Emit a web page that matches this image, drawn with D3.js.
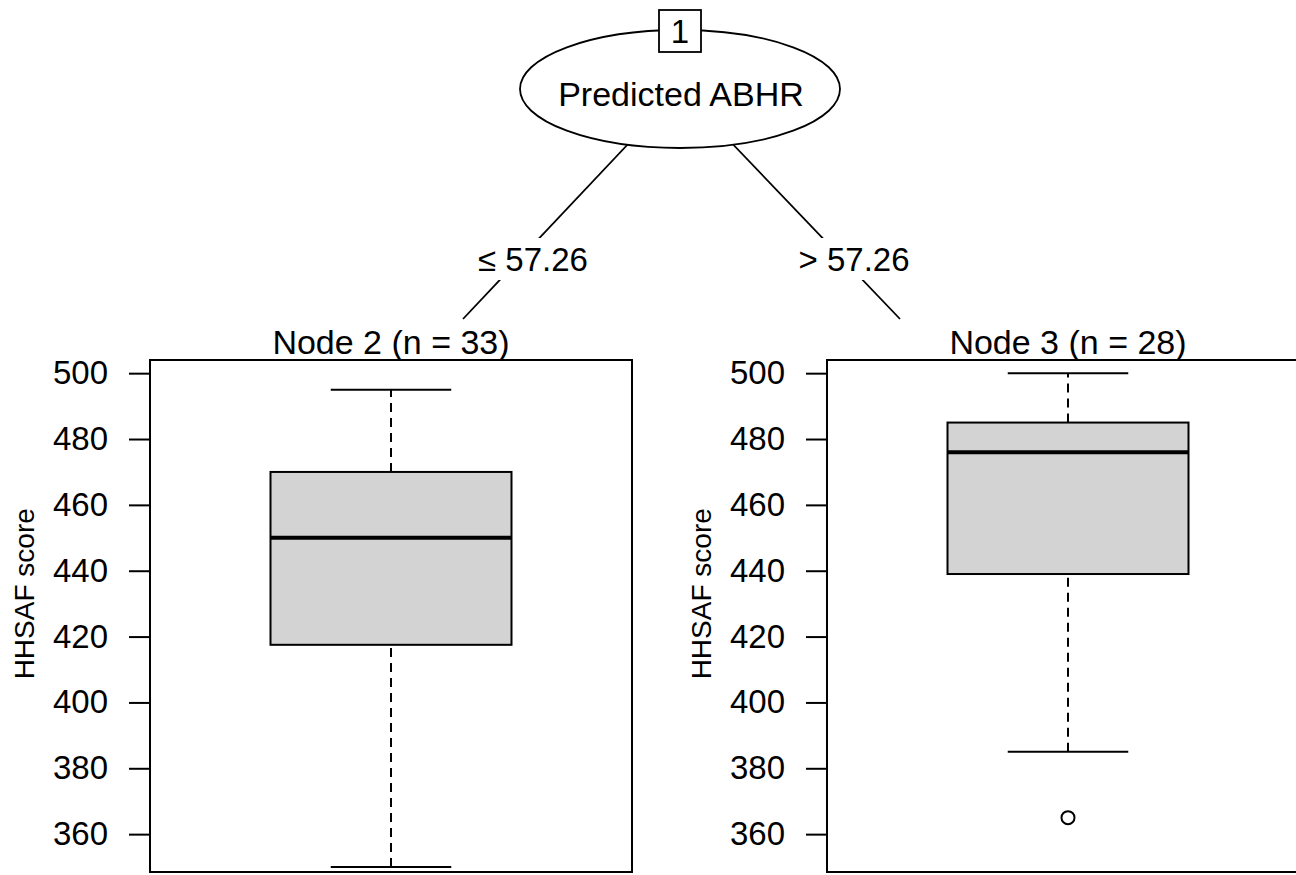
<!DOCTYPE html>
<html>
<head>
<meta charset="utf-8">
<script src="https://cdn.jsdelivr.net/npm/d3@7"></script>
<style>
  body { margin: 0; background: #fff; }
  text { font-family: "Liberation Sans", Arial, Helvetica, sans-serif; fill: #000; }
</style>
</head>
<body>
<svg id="chart" width="1296" height="875"></svg>
<script>
// data
const splitVar = "Predicted ABHR";
const rootId = 1;
const edgeLabels = ["\u2264 57.26", "> 57.26"];
const nodeIds = [2, 3];
const nodeN = [33, 28];
const whiskerLow = [350, 385];
const q1 = [417.5, 439];
const median = [450, 476];
const q3 = [470, 485];
const whiskerHigh = [495, 500];
const outliers = [[], [365]];
const yTicks = [360, 380, 400, 420, 440, 460, 480, 500];
const yDomain = [348.5, 504];
const yLabel = "HHSAF score";

const svg = d3.select("#chart");
const width = 1296, height = 875;

svg.append("rect").attr("width", width).attr("height", height).attr("fill", "#fff");

// layout
const panelTop = 360, panelBottom = 872, panelW = 482;
const panelLeft = [150, 827];
const root = { x: 680, y: 89, rx: 160, ry: 59 };
const edgeEnd = [[463, 319], [900, 319]];
const labelPos = [[533, 271], [854, 271]];

const yScale = d3.scaleLinear().domain(yDomain).range([panelBottom, panelTop]);

// edges
const edges = svg.append("g");
edgeEnd.forEach(function(e) {
    edges.append("line")
        .attr("x1", root.x).attr("y1", root.y)
        .attr("x2", e[0]).attr("y2", e[1])
        .attr("stroke", "#000").attr("stroke-width", 1.8);
});

// edge labels with white background
edgeLabels.forEach(function(lab, i) {
    const g = svg.append("g");
    const bg = g.append("rect").attr("fill", "#fff");
    const t = g.append("text")
        .attr("x", labelPos[i][0]).attr("y", labelPos[i][1])
        .attr("text-anchor", "middle")
        .attr("font-size", 33)
        .text(lab);
    const bb = t.node().getBBox();
    bg.attr("x", bb.x - 2).attr("y", 238).attr("width", bb.width + 4).attr("height", 42);
});

// root node
svg.append("ellipse")
    .attr("cx", root.x).attr("cy", root.y)
    .attr("rx", root.rx).attr("ry", root.ry)
    .attr("fill", "#fff").attr("stroke", "#000").attr("stroke-width", 1.8);
svg.append("text")
    .attr("x", root.x + 1).attr("y", 106)
    .attr("text-anchor", "middle").attr("font-size", 34)
    .text(splitVar);
svg.append("rect")
    .attr("x", root.x - 21).attr("y", 10).attr("width", 42).attr("height", 42)
    .attr("fill", "#fff").attr("stroke", "#000").attr("stroke-width", 1.8);
svg.append("text")
    .attr("x", root.x).attr("y", 43)
    .attr("text-anchor", "middle").attr("font-size", 33)
    .text(rootId);

// terminal nodes
nodeIds.forEach(function(id, i) {
    const x0 = panelLeft[i];
    const xScale = d3.scaleLinear().domain([0, 1]).range([x0, x0 + panelW]);
    const g = svg.append("g");

    g.append("text")
        .attr("x", xScale(0.5)).attr("y", panelTop - 6)
        .attr("text-anchor", "middle").attr("font-size", 34)
        .text("Node " + id + " (n = " + nodeN[i] + ")");

    // y axis
    const axis = d3.axisLeft(yScale).tickValues(yTicks).tickSize(21).tickPadding(21);
    const ax = g.append("g").attr("transform", "translate(" + x0 + ",0)").call(axis);
    ax.select(".domain").remove();
    ax.selectAll(".tick line").attr("stroke", "#000").attr("stroke-width", 2);
    ax.selectAll(".tick text").attr("font-size", 33).attr("font-family", "Liberation Sans, Arial, sans-serif");

    g.append("text")
        .attr("transform", "translate(" + (x0 - 116) + "," + yScale(433) + ") rotate(-90)")
        .attr("text-anchor", "middle").attr("font-size", 28)
        .text(yLabel);

    // whiskers
    const cx = xScale(0.5);
    [[whiskerLow[i], q1[i]], [q3[i], whiskerHigh[i]]].forEach(function(w) {
        g.append("line")
            .attr("x1", cx).attr("x2", cx)
            .attr("y1", yScale(w[0])).attr("y2", yScale(w[1]))
            .attr("stroke", "#000").attr("stroke-width", 2)
            .attr("stroke-dasharray", "9,6");
    });
    [whiskerLow[i], whiskerHigh[i]].forEach(function(v) {
        g.append("line")
            .attr("x1", xScale(0.375)).attr("x2", xScale(0.625))
            .attr("y1", yScale(v)).attr("y2", yScale(v))
            .attr("stroke", "#000").attr("stroke-width", 2);
    });

    // box
    g.append("rect")
        .attr("x", xScale(0.25)).attr("width", xScale(0.75) - xScale(0.25))
        .attr("y", yScale(q3[i])).attr("height", yScale(q1[i]) - yScale(q3[i]))
        .attr("fill", "#d3d3d3").attr("stroke", "#000").attr("stroke-width", 2);
    g.append("line")
        .attr("x1", xScale(0.25)).attr("x2", xScale(0.75))
        .attr("y1", yScale(median[i])).attr("y2", yScale(median[i]))
        .attr("stroke", "#000").attr("stroke-width", 4);

    g.selectAll("circle.out")
        .data(outliers[i])
        .enter().append("circle")
        .attr("cx", cx).attr("cy", d => yScale(d))
        .attr("r", 6.5)
        .attr("fill", "none").attr("stroke", "#000").attr("stroke-width", 2);

    // panel frame
    g.append("rect")
        .attr("x", x0).attr("y", panelTop)
        .attr("width", panelW).attr("height", panelBottom - panelTop)
        .attr("fill", "none").attr("stroke", "#000").attr("stroke-width", 2);
});
</script>
</body>
</html>
